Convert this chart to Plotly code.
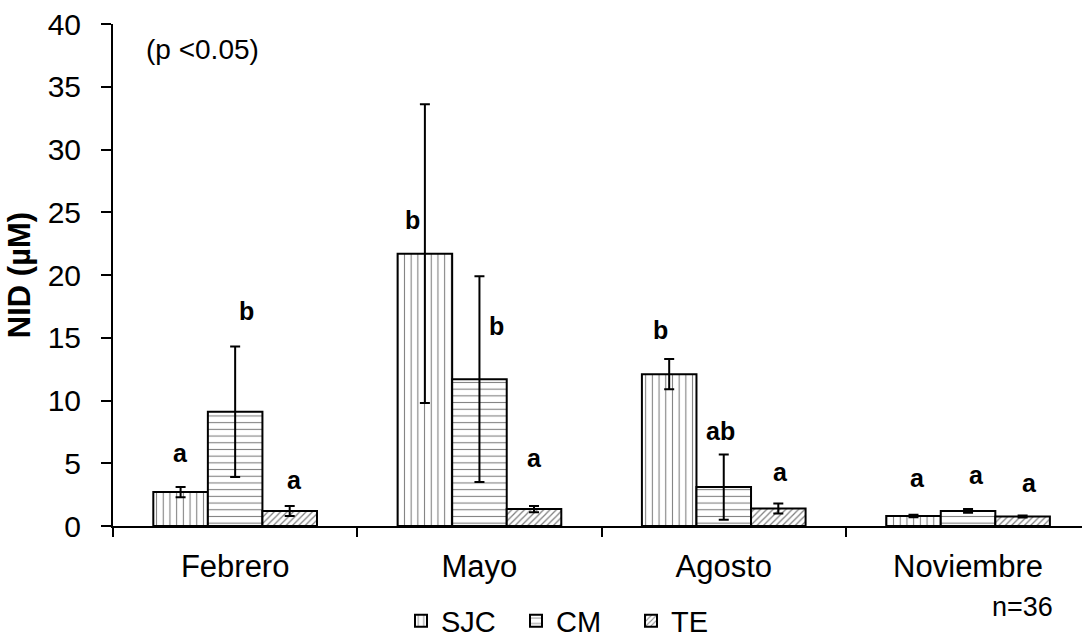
import plotly.graph_objects as go

# Monthly NID concentrations (µM) at three sites, mean ± SD
months = ["Febrero", "Mayo", "Agosto", "Noviembre"]
series_names = ["SJC", "CM", "TE"]

sjc_mean = [2.7, 21.7, 12.1, 0.8]
sjc_sd = [0.4, 11.9, 1.2, 0.1]
cm_mean = [9.1, 11.7, 3.1, 1.2]
cm_sd = [5.2, 8.2, 2.6, 0.15]
te_mean = [1.2, 1.35, 1.4, 0.75]
te_sd = [0.4, 0.25, 0.4, 0.08]

# Significance letters per bar (same order as months)
sjc_letters = ["a", "b", "b", "a"]
cm_letters = ["b", "b", "ab", "a"]
te_letters = ["a", "a", "a", "a"]

FONT = "Liberation Sans, Arial, sans-serif"
BARGAP = 0.33
BAR_W = (1 - BARGAP) / 3

means = [sjc_mean, cm_mean, te_mean]
sds = [sjc_sd, cm_sd, te_sd]
letters = [sjc_letters, cm_letters, te_letters]
patterns = [
    dict(shape="|", size=6.7, solidity=0.16, fgcolor="black", bgcolor="white"),
    dict(shape="-", size=6.7, solidity=0.16, fgcolor="black", bgcolor="white"),
    dict(shape="/", size=4.5, solidity=0.28, fgcolor="black", bgcolor="white"),
]

# label heights above each bar (y units), placement only
label_y = [
    [5.8, 24.4, 15.6, 3.8],
    [17.1, 15.9, 7.6, 4.1],
    [3.7, 5.4, 4.3, 3.4],
]
label_dx = [
    [0.0, -0.05, -0.035, 0.015],
    [0.045, 0.07, -0.015, 0.035],
    [0.02, 0.0, 0.01, 0.03],
]

W, H = 1082, 639
ML, MT, MB = 113, 24, 113
PW, PH = W - ML, H - MT - MB

fig = go.Figure()
for i, name in enumerate(series_names):
    fig.add_trace(go.Bar(
        name=name,
        x=months,
        y=means[i],
        error_y=dict(type="data", array=sds[i], visible=True,
                     color="black", thickness=2, width=5),
        marker=dict(color="white", pattern=patterns[i],
                    line=dict(color="black", width=2)),
    ))

annotations = []
for i in range(3):
    for j in range(len(months)):
        annotations.append(dict(
            x=j + (i - 1) * BAR_W + label_dx[i][j], y=label_y[i][j],
            xref="x", yref="y", text=f"<b>{letters[i][j]}</b>",
            showarrow=False, font=dict(family=FONT, size=25, color="black"),
        ))

annotations.append(dict(
    x=(144 - ML) / PW, y=(H - MB - 50) / PH, xref="paper", yref="paper",
    text="(p <0.05)", showarrow=False, xanchor="left", yanchor="middle",
    font=dict(family=FONT, size=28, color="black"),
))
annotations.append(dict(
    x=(1055 - ML) / PW, y=(H - MB - 607) / PH, xref="paper", yref="paper",
    text="n=36", showarrow=False, xanchor="right", yanchor="middle",
    font=dict(family=FONT, size=27, color="black"),
))

fig.update_layout(
    width=W, height=H,
    margin=dict(l=ML, r=0, t=MT, b=MB, pad=0, autoexpand=False),
    paper_bgcolor="white", plot_bgcolor="white",
    barmode="group", bargap=BARGAP, bargroupgap=0,
    font=dict(family=FONT, color="black"),
    showlegend=True,
    legend=dict(
        orientation="h", x=(401 - ML) / PW, y=(H - MB - 621) / PH,
        xanchor="left", yanchor="middle",
        font=dict(family=FONT, size=29, color="black"),
        bgcolor="rgba(0,0,0,0)", itemwidth=30,
        entrywidth=70, entrywidthmode="pixels",
    ),
    annotations=annotations,
)

fig.update_xaxes(
    type="category", range=[-0.5, -0.5 + PW / 244.3],
    showline=True, linecolor="black", linewidth=2,
    ticks="outside", tickson="boundaries", ticklen=9, tickwidth=2,
    tickcolor="black", showgrid=False, zeroline=False,
    tickfont=dict(family=FONT, size=31, color="black"),
    ticklabelstandoff=12,
)
fig.update_yaxes(
    range=[0, 40], dtick=5, tick0=0,
    showline=True, linecolor="black", linewidth=2,
    ticks="outside", ticklen=10, tickwidth=2, tickcolor="black",
    showgrid=False, zeroline=False,
    tickfont=dict(family=FONT, size=30, color="black"),
    ticklabelstandoff=14,
    title=dict(text="<b>NID (µM)</b>", standoff=8,
               font=dict(family=FONT, size=31, color="black")),
)

fig.write_html("out.html")
